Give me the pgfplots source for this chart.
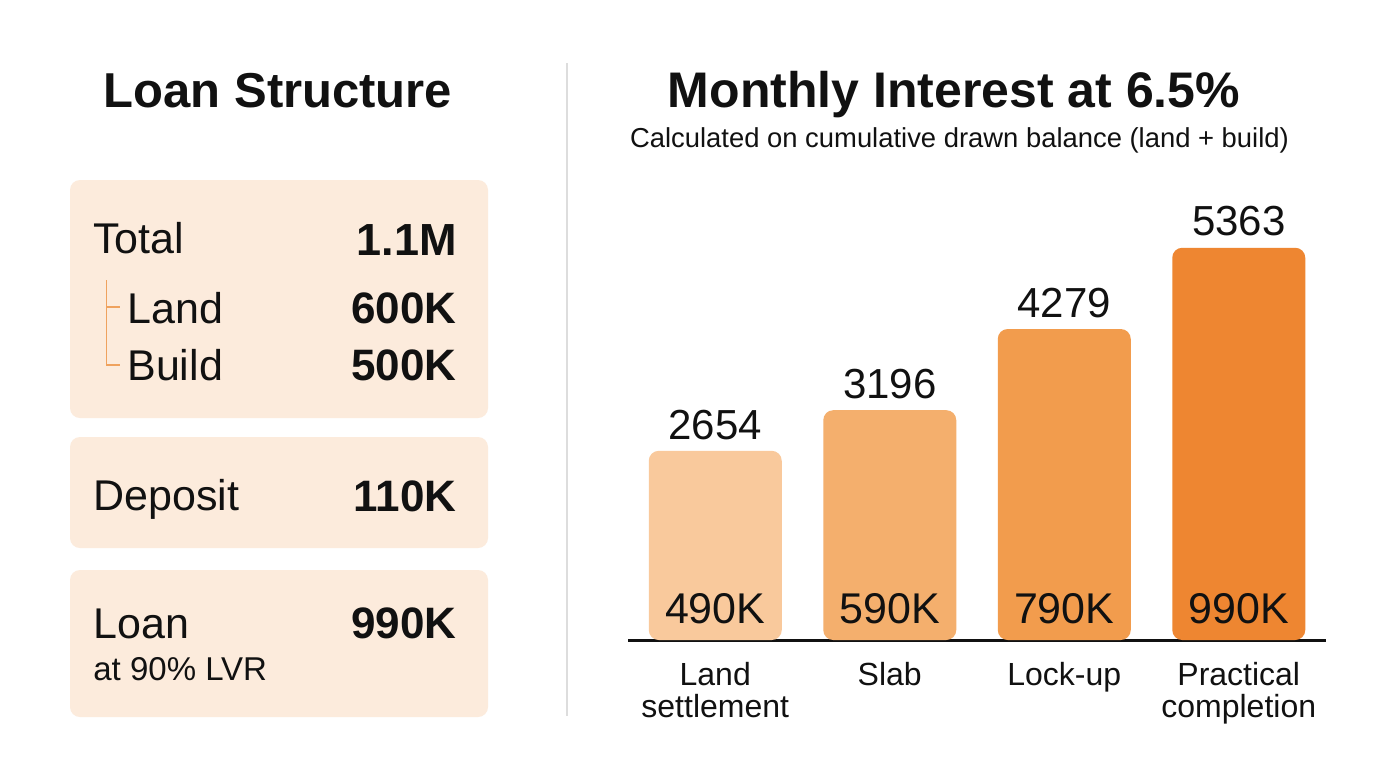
\documentclass[border=0pt]{standalone}
\usepackage{pgfplots}
\pgfplotsset{compat=1.18}
\usepackage{fontspec}
\setmainfont{Liberation Sans}
\definecolor{boxfill}{HTML}{FCEBDC}
\definecolor{barA}{HTML}{F9C99C}
\definecolor{barB}{HTML}{F4AF6D}
\definecolor{barC}{HTML}{F29C4D}
\definecolor{barD}{HTML}{EE8631}
\definecolor{tree}{HTML}{EFA25E}
\definecolor{ink}{HTML}{111111}
\definecolor{divider}{HTML}{DDDDDD}
\newcommand{\fs}[1]{\fontsize{#1}{#1}\selectfont}
\begin{document}
\begin{tikzpicture}[x=0.5pt,y=-0.5pt]
\path[use as bounding box, fill=white] (0,0) rectangle (1376,768);
% ---------- left panel ----------
\node[anchor=base, inner sep=0pt, font=\bfseries\fs{24.5pt}, text=ink] at (278,107) {Loan Structure};
\fill[boxfill, rounded corners=5pt] (70,180) rectangle (488,418);
\fill[boxfill, rounded corners=5pt] (70,437) rectangle (488,548);
\fill[boxfill, rounded corners=5pt] (70,570) rectangle (488,717);
\draw[tree, line width=0.7pt] (106.7,280) -- (106.7,365) -- (120,365);
\draw[tree, line width=0.7pt] (106.7,307) -- (120,307);
\node[anchor=base west, inner sep=0pt, font=\fs{21.5pt}, text=ink] at (93,253) {Total};
\node[anchor=base east, inner sep=0pt, font=\bfseries\fs{22.5pt}, text=ink] at (457,255) {1.1M};
\node[anchor=base west, inner sep=0pt, font=\fs{21.5pt}, text=ink] at (127,323) {Land};
\node[anchor=base east, inner sep=0pt, font=\bfseries\fs{22pt}, text=ink] at (457,323) {600K};
\node[anchor=base west, inner sep=0pt, font=\fs{21.5pt}, text=ink] at (127,380) {Build};
\node[anchor=base east, inner sep=0pt, font=\bfseries\fs{22pt}, text=ink] at (457,380) {500K};
\node[anchor=base west, inner sep=0pt, font=\fs{21.5pt}, text=ink] at (93,510) {Deposit};
\node[anchor=base east, inner sep=0pt, font=\bfseries\fs{22pt}, text=ink] at (457,511) {110K};
\node[anchor=base west, inner sep=0pt, font=\fs{21.5pt}, text=ink] at (93,638) {Loan};
\node[anchor=base east, inner sep=0pt, font=\bfseries\fs{22pt}, text=ink] at (457,638) {990K};
\node[anchor=base west, inner sep=0pt, font=\fs{16.5pt}, text=ink] at (93,680) {at 90\% LVR};
% divider
\draw[divider, line width=0.75pt] (567,63) -- (567,716);
% ---------- right panel ----------
\node[anchor=base, inner sep=0pt, font=\bfseries\fs{25pt}, text=ink] at (954,107) {Monthly Interest at 6.5\%};
\node[anchor=base, inner sep=0pt, font=\fs{13.7pt}, text=ink] at (959.5,147) {Calculated on cumulative drawn balance (land + build)};
\begin{axis}[
  at={(314pt,-320pt)}, anchor=south west,
  scale only axis, width=349pt, height=220pt,
  xmin=-0.5, xmax=3.5, ymin=130, ymax=6000,
  axis x line*=bottom, axis y line=none,
  axis line style={line width=1.5pt, ink},
  xtick={0,1,2,3},
  xticklabels={{Land\\settlement},{Slab},{Lock-up},{Practical\\completion}},
  major tick length=0pt,
  xticklabel style={align=center, font=\fs{16pt}, text=ink, anchor=north, yshift=-7.5pt},
  every node near coord/.append style={font=\fs{21pt}, text=ink, inner sep=0pt, anchor=south, yshift=5.5pt},
]
\addplot[ybar, bar width=66.5pt, bar shift=0pt, fill=barA, draw=none, rounded corners=5pt,
  nodes near coords, point meta=explicit symbolic] coordinates {(0,2654) [2654]};
\addplot[ybar, bar width=66.5pt, bar shift=0pt, fill=barB, draw=none, rounded corners=5pt,
  nodes near coords, point meta=explicit symbolic] coordinates {(1,3196) [3196]};
\addplot[ybar, bar width=66.5pt, bar shift=0pt, fill=barC, draw=none, rounded corners=5pt,
  nodes near coords, point meta=explicit symbolic] coordinates {(2,4279) [4279]};
\addplot[ybar, bar width=66.5pt, bar shift=0pt, fill=barD, draw=none, rounded corners=5pt,
  nodes near coords, point meta=explicit symbolic] coordinates {(3,5363) [5363]};
\node[anchor=base, inner sep=0pt, font=\fs{21.5pt}, text=ink, yshift=8.5pt] at (axis cs:0,130) {490K};
\node[anchor=base, inner sep=0pt, font=\fs{21.5pt}, text=ink, yshift=8.5pt] at (axis cs:1,130) {590K};
\node[anchor=base, inner sep=0pt, font=\fs{21.5pt}, text=ink, yshift=8.5pt] at (axis cs:2,130) {790K};
\node[anchor=base, inner sep=0pt, font=\fs{21.5pt}, text=ink, yshift=8.5pt] at (axis cs:3,130) {990K};
\end{axis}
\end{tikzpicture}
\end{document}
